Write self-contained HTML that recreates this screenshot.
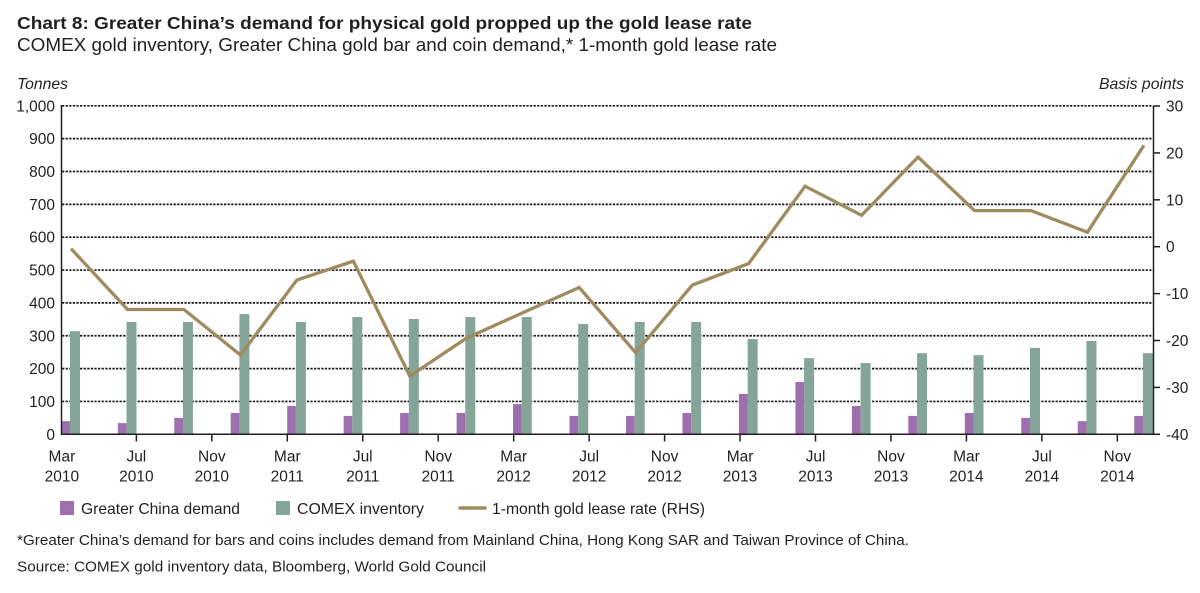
<!DOCTYPE html>
<html>
<head>
<meta charset="utf-8">
<style>
html,body{margin:0;padding:0;background:#fff;}
svg{display:block;}
text{font-family:"Liberation Sans",Arial,sans-serif;fill:#231f20;}
</style>
</head>
<body>
<svg width="1200" height="593" viewBox="0 0 1200 593" xmlns="http://www.w3.org/2000/svg">
<!-- titles -->
<text x="17" y="29" font-size="17.7" font-weight="bold" textLength="735" lengthAdjust="spacingAndGlyphs">Chart 8: Greater China’s demand for physical gold propped up the gold lease rate</text>
<text x="17" y="51" font-size="18.5" textLength="760" lengthAdjust="spacingAndGlyphs">COMEX gold inventory, Greater China gold bar and coin demand,* 1-month gold lease rate</text>
<text x="17" y="89" font-size="16" font-style="italic" textLength="51" lengthAdjust="spacingAndGlyphs">Tonnes</text>
<text x="1099" y="89" font-size="16" font-style="italic" textLength="85" lengthAdjust="spacingAndGlyphs">Basis points</text>

<!-- gridlines -->
<g stroke="#1a1a1a" stroke-width="1.7" stroke-dasharray="2.3,1.3">
<line x1="62" x2="1153" y1="401.45" y2="401.45"/>
<line x1="62" x2="1153" y1="368.6" y2="368.6"/>
<line x1="62" x2="1153" y1="335.75" y2="335.75"/>
<line x1="62" x2="1153" y1="302.9" y2="302.9"/>
<line x1="62" x2="1153" y1="270.05" y2="270.05"/>
<line x1="62" x2="1153" y1="237.2" y2="237.2"/>
<line x1="62" x2="1153" y1="204.35" y2="204.35"/>
<line x1="62" x2="1153" y1="171.5" y2="171.5"/>
<line x1="62" x2="1153" y1="138.65" y2="138.65"/>
<line x1="62" x2="1153" y1="105.8" y2="105.8"/>
</g>

<!-- purple bars -->
<g fill="#9e6fae">
<rect x="61.3" y="421.16" width="8.7" height="13.14"/>
<rect x="117.77" y="423.13" width="8.7" height="11.17"/>
<rect x="174.24" y="417.87" width="8.7" height="16.43"/>
<rect x="230.71" y="412.95" width="8.7" height="21.35"/>
<rect x="287.18" y="406.05" width="8.7" height="28.25"/>
<rect x="343.65" y="415.9" width="8.7" height="18.4"/>
<rect x="400.12" y="412.95" width="8.7" height="21.35"/>
<rect x="456.59" y="412.95" width="8.7" height="21.35"/>
<rect x="513.06" y="404.08" width="8.7" height="30.22"/>
<rect x="569.53" y="415.9" width="8.7" height="18.4"/>
<rect x="626.0" y="415.9" width="8.7" height="18.4"/>
<rect x="682.47" y="412.95" width="8.7" height="21.35"/>
<rect x="738.94" y="393.89" width="8.7" height="40.41"/>
<rect x="795.41" y="382.07" width="8.7" height="52.23"/>
<rect x="851.88" y="406.05" width="8.7" height="28.25"/>
<rect x="908.35" y="415.9" width="8.7" height="18.4"/>
<rect x="964.82" y="412.95" width="8.7" height="21.35"/>
<rect x="1021.29" y="417.87" width="8.7" height="16.43"/>
<rect x="1077.76" y="421.16" width="8.7" height="13.14"/>
<rect x="1134.23" y="415.9" width="8.7" height="18.4"/>
</g>
<!-- green bars -->
<g fill="#84a598">
<rect x="70" y="331.15" width="10" height="103.15"/>
<rect x="126.47" y="321.95" width="10" height="112.35"/>
<rect x="182.94" y="321.95" width="10" height="112.35"/>
<rect x="239.41" y="314.07" width="10" height="120.23"/>
<rect x="295.88" y="321.95" width="10" height="112.35"/>
<rect x="352.35" y="317.03" width="10" height="117.27"/>
<rect x="408.82" y="319.0" width="10" height="115.3"/>
<rect x="465.29" y="317.03" width="10" height="117.27"/>
<rect x="521.76" y="317.03" width="10" height="117.27"/>
<rect x="578.23" y="323.92" width="10" height="110.38"/>
<rect x="634.7" y="321.95" width="10" height="112.35"/>
<rect x="691.17" y="321.95" width="10" height="112.35"/>
<rect x="747.64" y="339.03" width="10" height="95.27"/>
<rect x="804.11" y="358.09" width="10" height="76.21"/>
<rect x="860.58" y="363.02" width="10" height="71.28"/>
<rect x="917.05" y="353.16" width="10" height="81.14"/>
<rect x="973.52" y="355.13" width="10" height="79.17"/>
<rect x="1029.99" y="347.9" width="10" height="86.4"/>
<rect x="1086.46" y="341.01" width="10" height="93.29"/>
<rect x="1142.93" y="353.16" width="10" height="81.14"/>
</g>

<!-- lease rate line -->
<polyline fill="none" stroke="#9f8b5f" stroke-width="3.3" stroke-linejoin="miter" points="71,248.6 127.47,309.5 183.94,309.5 240.41,355.0 296.88,280.0 353.35,261.2 409.82,376.1 466.29,338.2 522.76,312.8 579.23,287.5 635.7,352.7 692.17,285.2 748.64,263.6 805.11,186.2 861.58,215.3 918.05,157.1 974.52,210.6 1030.99,210.6 1087.46,232.2 1143.93,145.4"/>

<!-- axes -->
<g stroke="#231f20" stroke-width="1.5">
<line x1="61.5" x2="61.5" y1="105" y2="435"/>
<line x1="61" x2="1154" y1="434.3" y2="434.3"/>
<line x1="1153.5" x2="1153.5" y1="105.5" y2="435"/>
<!-- right ticks -->
<line x1="1153.5" x2="1160" y1="106" y2="106"/>
<line x1="1153.5" x2="1160" y1="152.9" y2="152.9"/>
<line x1="1153.5" x2="1160" y1="199.8" y2="199.8"/>
<line x1="1153.5" x2="1160" y1="246.7" y2="246.7"/>
<line x1="1153.5" x2="1160" y1="293.6" y2="293.6"/>
<line x1="1153.5" x2="1160" y1="340.5" y2="340.5"/>
<line x1="1153.5" x2="1160" y1="387.4" y2="387.4"/>
<line x1="1153.5" x2="1160" y1="434.3" y2="434.3"/>
<!-- x ticks -->
<line x1="136.36" x2="136.36" y1="434.3" y2="441.5"/>
<line x1="211.82" x2="211.82" y1="434.3" y2="441.5"/>
<line x1="287.28" x2="287.28" y1="434.3" y2="441.5"/>
<line x1="362.74" x2="362.74" y1="434.3" y2="441.5"/>
<line x1="438.2" x2="438.2" y1="434.3" y2="441.5"/>
<line x1="513.66" x2="513.66" y1="434.3" y2="441.5"/>
<line x1="589.12" x2="589.12" y1="434.3" y2="441.5"/>
<line x1="664.58" x2="664.58" y1="434.3" y2="441.5"/>
<line x1="740.04" x2="740.04" y1="434.3" y2="441.5"/>
<line x1="815.5" x2="815.5" y1="434.3" y2="441.5"/>
<line x1="890.96" x2="890.96" y1="434.3" y2="441.5"/>
<line x1="966.42" x2="966.42" y1="434.3" y2="441.5"/>
<line x1="1041.88" x2="1041.88" y1="434.3" y2="441.5"/>
<line x1="1117.34" x2="1117.34" y1="434.3" y2="441.5"/>
</g>

<!-- left labels -->
<g font-size="15.5" text-anchor="end">
<text x="55" y="111.3">1,000</text>
<text x="55" y="144.2">900</text>
<text x="55" y="177">800</text>
<text x="55" y="209.9">700</text>
<text x="55" y="242.7">600</text>
<text x="55" y="275.6">500</text>
<text x="55" y="308.4">400</text>
<text x="55" y="341.3">300</text>
<text x="55" y="374.1">200</text>
<text x="55" y="407">100</text>
<text x="55" y="439.8">0</text>
</g>
<!-- right labels -->
<g font-size="15.5">
<text x="1166" y="111.5">30</text>
<text x="1166" y="158.4">20</text>
<text x="1166" y="205.3">10</text>
<text x="1166" y="252.2">0</text>
<text x="1166" y="299.1">-10</text>
<text x="1166" y="346">-20</text>
<text x="1166" y="392.9">-30</text>
<text x="1166" y="439.8">-40</text>
</g>
<!-- x labels -->
<g font-size="15.5" text-anchor="middle">
<text x="61.9" y="461.5">Mar</text><text x="61.9" y="481.5">2010</text>
<text x="136.36" y="461.5">Jul</text><text x="136.36" y="481.5">2010</text>
<text x="211.82" y="461.5">Nov</text><text x="211.82" y="481.5">2010</text>
<text x="287.28" y="461.5">Mar</text><text x="287.28" y="481.5">2011</text>
<text x="362.74" y="461.5">Jul</text><text x="362.74" y="481.5">2011</text>
<text x="438.2" y="461.5">Nov</text><text x="438.2" y="481.5">2011</text>
<text x="513.66" y="461.5">Mar</text><text x="513.66" y="481.5">2012</text>
<text x="589.12" y="461.5">Jul</text><text x="589.12" y="481.5">2012</text>
<text x="664.58" y="461.5">Nov</text><text x="664.58" y="481.5">2012</text>
<text x="740.04" y="461.5">Mar</text><text x="740.04" y="481.5">2013</text>
<text x="815.5" y="461.5">Jul</text><text x="815.5" y="481.5">2013</text>
<text x="890.96" y="461.5">Nov</text><text x="890.96" y="481.5">2013</text>
<text x="966.42" y="461.5">Mar</text><text x="966.42" y="481.5">2014</text>
<text x="1041.88" y="461.5">Jul</text><text x="1041.88" y="481.5">2014</text>
<text x="1117.34" y="461.5">Nov</text><text x="1117.34" y="481.5">2014</text>
</g>

<!-- legend -->
<rect x="60" y="501" width="14" height="14" fill="#9e6fae"/>
<text x="81" y="514" font-size="16" textLength="159" lengthAdjust="spacingAndGlyphs">Greater China demand</text>
<rect x="276" y="501" width="14" height="14" fill="#84a598"/>
<text x="297" y="514" font-size="16" textLength="127" lengthAdjust="spacingAndGlyphs">COMEX inventory</text>
<line x1="460" x2="485" y1="508" y2="508" stroke="#9f8b5f" stroke-width="3.5" stroke-linecap="round"/>
<text x="492" y="514" font-size="16" textLength="213" lengthAdjust="spacingAndGlyphs">1-month gold lease rate (RHS)</text>

<!-- footnotes -->
<text x="17" y="545" font-size="15" textLength="892" lengthAdjust="spacingAndGlyphs">*Greater China’s demand for bars and coins includes demand from Mainland China, Hong Kong SAR and Taiwan Province of China.</text>
<text x="17" y="571.5" font-size="15" textLength="469" lengthAdjust="spacingAndGlyphs">Source: COMEX gold inventory data, Bloomberg, World Gold Council</text>
</svg>
</body>
</html>
